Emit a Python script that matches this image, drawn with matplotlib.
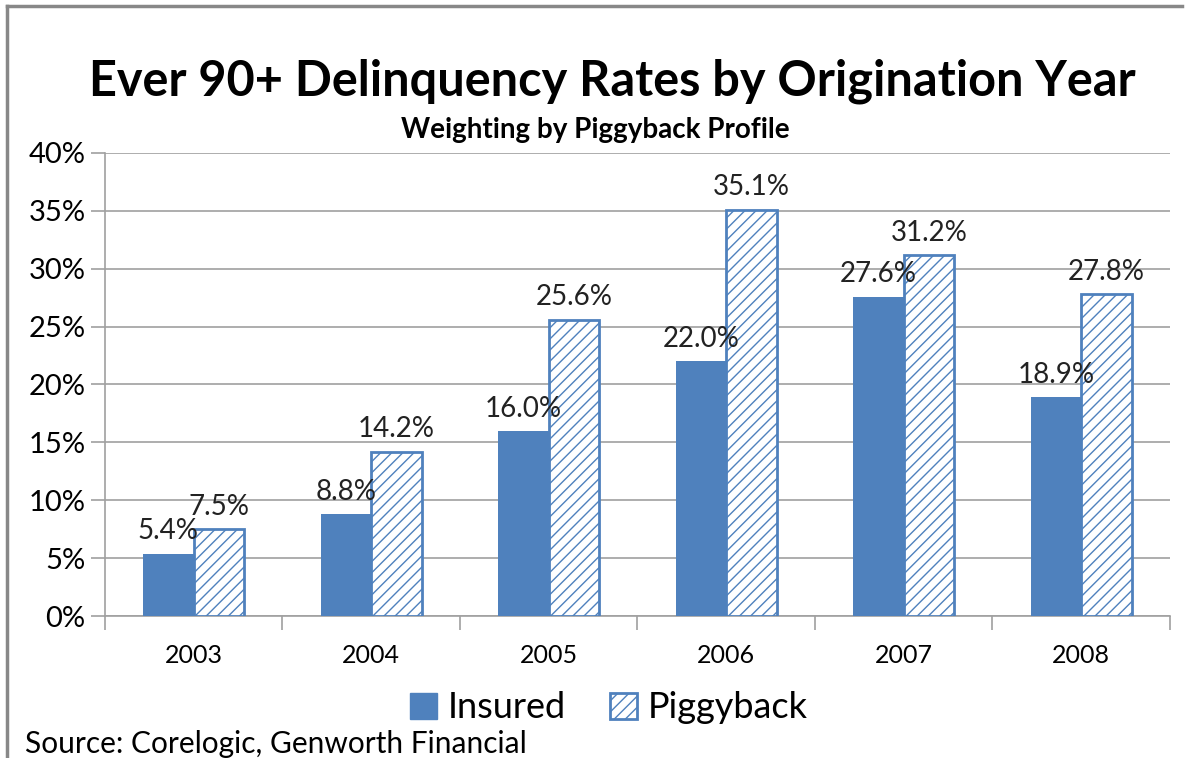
import numpy as np
import matplotlib
matplotlib.use('Agg')
import matplotlib.pyplot as plt
from matplotlib.lines import Line2D
from matplotlib.patches import Patch

years = ['2003', '2004', '2005', '2006', '2007', '2008']
insured = [5.4, 8.8, 16.0, 22.0, 27.6, 18.9]
piggyback = [7.5, 14.2, 25.6, 35.1, 31.2, 27.8]

blue = '#4F81BD'
grid_grey = '#A0A0A0'

plt.rcParams['font.family'] = ['Lato', 'DejaVu Sans']
plt.rcParams['hatch.linewidth'] = 1.0

fig = plt.figure(figsize=(11.94, 7.58), dpi=100)
ax = fig.add_axes([0.0879, 0.1873, 0.892, 0.6109])

x = np.arange(len(years))
w = 0.285
ax.bar(x - w / 2, insured, w, color=blue, edgecolor=blue, linewidth=0, zorder=3)
ax.bar(x + w / 2, piggyback, w, color='white', edgecolor=blue, hatch='///',
       linewidth=2, zorder=3)

for xi, v in zip(x, insured):
    ax.text(xi - w / 2, v + 0.8, f'{v:.1f}%', ha='center', va='bottom',
            fontsize=20, color='#222222', zorder=4)
for xi, v in zip(x, piggyback):
    ax.text(xi + w / 2, v + 0.8, f'{v:.1f}%', ha='center', va='bottom',
            fontsize=20, color='#222222', zorder=4)

ax.set_xlim(-0.5, len(years) - 0.5)
ax.set_ylim(0, 40)
ax.set_yticks(range(0, 41, 5))
ax.set_yticklabels([f'{t}%' for t in range(0, 41, 5)], fontsize=21)
ax.yaxis.grid(True, color=grid_grey, linewidth=1.2, zorder=0)
ax.set_axisbelow(True)

# category boundary ticks below axis, labels in the middle
ax.set_xticks(np.arange(-0.5, len(years)), minor=False)
ax.set_xticklabels([''] * (len(years) + 1))
ax.set_xticks(x, minor=True)
ax.set_xticklabels(years, minor=True, fontsize=18)
ax.tick_params(axis='x', which='major', length=10, color=grid_grey, width=1.2)
ax.tick_params(axis='x', which='minor', length=0, pad=20)
ax.tick_params(axis='y', length=10, color=grid_grey, width=1.2, pad=4)

for s in ['top', 'right']:
    ax.spines[s].set_visible(False)
for s in ['left', 'bottom']:
    ax.spines[s].set_color(grid_grey)
    ax.spines[s].set_linewidth(1.2)

fig.text(0.513, 0.893, 'Ever 90+ Delinquency Rates by Origination Year',
         ha='center', va='center', fontsize=35, fontweight='bold')
fig.text(0.499, 0.829, 'Weighting by Piggyback Profile',
         ha='center', va='center', fontsize=20, fontweight='bold')

handles = [Patch(facecolor=blue, edgecolor=blue),
           Patch(facecolor='white', edgecolor=blue, hatch='///', linewidth=2)]
fig.legend(handles, ['Insured', 'Piggyback'], loc='center',
           bbox_to_anchor=(0.51, 0.066), ncol=2, frameon=False, fontsize=26,
           handlelength=0.75, handleheight=0.75, handletextpad=0.3,
           columnspacing=1.2)

fig.text(0.021, 0.019, 'Source: Corelogic, Genworth Financial',
         ha='left', va='center', fontsize=21.5)

# outer chart frame (left and top edges)
fig.add_artist(Line2D([0.0059, 0.0059], [0.0, 0.9921], transform=fig.transFigure,
                      color='#888888', linewidth=2.5))
fig.add_artist(Line2D([0.0059, 0.99], [0.9921, 0.9921], transform=fig.transFigure,
                      color='#888888', linewidth=2.5))

fig.savefig('out.png', dpi=100)
